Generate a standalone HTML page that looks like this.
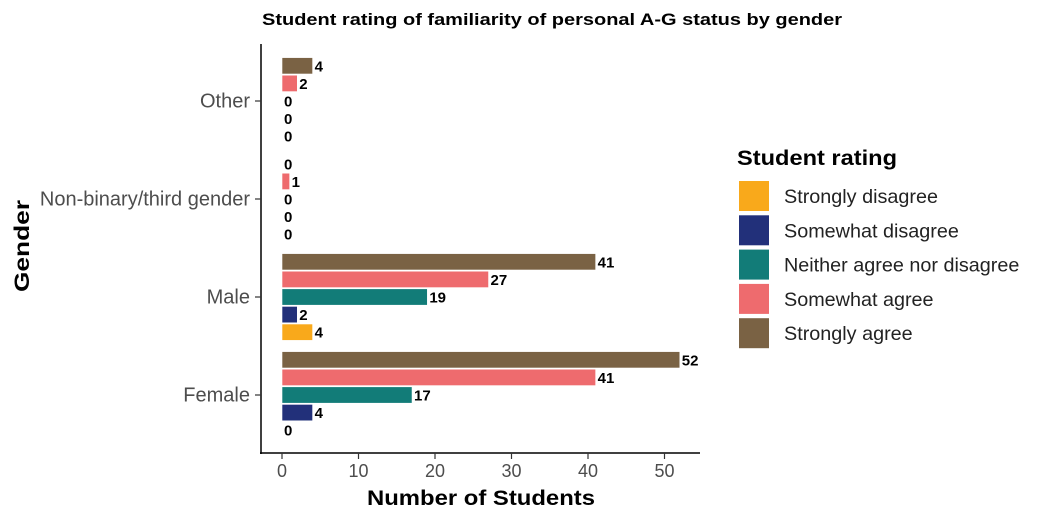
<!DOCTYPE html>
<html><head><meta charset="utf-8"><style>
body{margin:0;background:#fff;font-family:"Liberation Sans",Arial,sans-serif}
svg text{font-family:"Liberation Sans",Arial,sans-serif}
</style></head><body>
<svg width="1045" height="523" viewBox="0 0 1045 523">
<text x="262" y="25" font-size="17" font-weight="bold" textLength="580" lengthAdjust="spacingAndGlyphs">Student rating of familiarity of personal A-G status by gender</text>
<g id="plot"></g>
<line x1="261" y1="44" x2="261" y2="454" stroke="#000" stroke-width="1.5"/>
<line x1="260" y1="453" x2="700" y2="453" stroke="#000" stroke-width="1.5"/>
<text x="367" y="505" font-size="21" font-weight="bold" textLength="228" lengthAdjust="spacingAndGlyphs">Number of Students</text>
<text transform="translate(29,292) rotate(-90)" font-size="21" font-weight="bold" textLength="92" lengthAdjust="spacingAndGlyphs">Gender</text>
<g>
<text x="737" y="165" font-size="21" font-weight="bold" textLength="160" lengthAdjust="spacingAndGlyphs">Student rating</text>
<g id="legend"></g>
</g>
</svg>
<script>
const categories=["Other","Non-binary/third gender","Male","Female"];
const series=["Strongly disagree","Somewhat disagree","Neither agree nor disagree","Somewhat agree","Strongly agree"];
const colors=["#F9A91B","#22307A","#127C78","#EE6B6E","#7A6244"];
const stronglyDisagree=[0,0,4,0];
const somewhatDisagree=[0,0,2,4];
const neither=[0,0,19,17];
const somewhatAgree=[2,1,27,41];
const stronglyAgree=[4,0,41,52];
const xTicks=[0,10,20,30,40,50];
const values=[stronglyDisagree,somewhatDisagree,neither,somewhatAgree,stronglyAgree];
const NS="http://www.w3.org/2000/svg";
const svg=document.querySelector("svg");
const plot=document.getElementById("plot");
const legend=document.getElementById("legend");
const x=v=>282+v*7.65;
const yc=i=>101+i*98;
const bw=17.6;
function mk(t,a,p){const e=document.createElementNS(NS,t);for(const k in a)e.setAttribute(k,a[k]);(p||plot).appendChild(e);return e;}
xTicks.forEach(t=>{
 const l=mk("line",{x1:x(t),x2:x(t),y1:453,y2:459,stroke:"#333","stroke-width":1.2},svg);
 
 
 const tx=mk("text",{x:x(t),y:477,"text-anchor":"middle","font-size":18,fill:"#4d4d4d"},svg);
 tx.textContent=t;
 
 
});
categories.forEach((c,i)=>{
 const l=mk("line",{x1:255,x2:261,y1:yc(i),y2:yc(i),stroke:"#333","stroke-width":1.2},svg);
 
 
 const tx=mk("text",{x:250,y:yc(i)+6.5,"text-anchor":"end","font-size":20,fill:"#4d4d4d"},svg);
 tx.textContent=c;
 
 
 series.forEach((s,j)=>{
  const v=values[j][i];
  const cy=yc(i)+(2-j)*bw;
  const r=mk("rect",{x:x(0),y:cy-bw/2+0.6,width:Math.max(0,x(v)-x(0)),height:bw-1.2,fill:colors[j],stroke:v>0?"#fff":"none","stroke-width":0.6});
  
  
  const t=mk("text",{x:x(v)+2,y:cy+5.5,"font-size":15,"font-weight":"bold"});
  t.textContent=v;
  
  
 });
});
series.forEach((s,j)=>{
 const y=181+j*34.3;
 const r=mk("rect",{x:739,y:y,width:30,height:30,fill:colors[j]},legend);
 
 
 const t=mk("text",{x:784,y:y+22,"font-size":19.8,fill:"#222"},legend);
 t.textContent=s;
 
 
});
</script>
</body></html>
